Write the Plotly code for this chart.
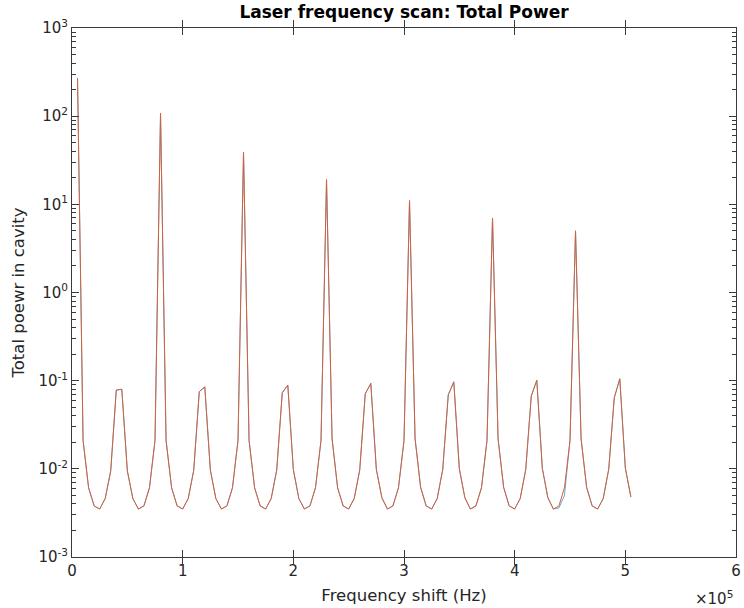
import plotly.graph_objects as go

# Frequency grid (Hz)
freq = [
    5000, 10000, 15000, 20000, 25000, 30000, 35000, 40000, 45000, 50000,
    55000, 60000, 65000, 70000, 75000, 80000, 85000, 90000, 95000, 100000,
    105000, 110000, 115000, 120000, 125000, 130000, 135000, 140000, 145000, 150000,
    155000, 160000, 165000, 170000, 175000, 180000, 185000, 190000, 195000, 200000,
    205000, 210000, 215000, 220000, 225000, 230000, 235000, 240000, 245000, 250000,
    255000, 260000, 265000, 270000, 275000, 280000, 285000, 290000, 295000, 300000,
    305000, 310000, 315000, 320000, 325000, 330000, 335000, 340000, 345000, 350000,
    355000, 360000, 365000, 370000, 375000, 380000, 385000, 390000, 395000, 400000,
    405000, 410000, 415000, 420000, 425000, 430000, 435000, 440000, 445000, 450000,
    455000, 460000, 465000, 470000, 475000, 480000, 485000, 490000, 495000, 500000,
    505000,
]

# Total power, series 1 (blue)
power_a = [
    270, 0.021, 0.0061, 0.0038, 0.0035, 0.0046, 0.0095, 0.078, 0.080, 0.0095,
    0.0046, 0.0035, 0.0038, 0.0061, 0.021,
    108, 0.021, 0.0061, 0.0038, 0.0035, 0.0046, 0.0096, 0.075, 0.085, 0.0097,
    0.0046, 0.0035, 0.0038, 0.0061, 0.021,
    39, 0.021, 0.0061, 0.0038, 0.0035, 0.0046, 0.0097, 0.073, 0.089, 0.0098,
    0.0046, 0.0035, 0.0038, 0.0061, 0.021,
    19, 0.022, 0.0061, 0.0038, 0.0035, 0.0046, 0.0097, 0.071, 0.093, 0.0099,
    0.0047, 0.0035, 0.0038, 0.0061, 0.021,
    11, 0.022, 0.0062, 0.0038, 0.0035, 0.0046, 0.0098, 0.069, 0.097, 0.0100,
    0.0047, 0.0035, 0.0038, 0.0061, 0.021,
    7.0, 0.022, 0.0062, 0.0038, 0.0035, 0.0046, 0.0098, 0.067, 0.101, 0.0101,
    0.0047, 0.0035, 0.0036, 0.0050, 0.021,
    5.0, 0.022, 0.0062, 0.0038, 0.0035, 0.0046, 0.0099, 0.064, 0.105, 0.0102,
    0.0048,
]

# Total power, series 2 (orange)
power_b = [
    270, 0.021, 0.0061, 0.0038, 0.0035, 0.0046, 0.0095, 0.078, 0.080, 0.0095,
    0.0046, 0.0035, 0.0038, 0.0061, 0.021,
    108, 0.021, 0.0061, 0.0038, 0.0035, 0.0046, 0.0096, 0.075, 0.085, 0.0097,
    0.0046, 0.0035, 0.0038, 0.0061, 0.021,
    39, 0.021, 0.0061, 0.0038, 0.0035, 0.0046, 0.0097, 0.073, 0.089, 0.0098,
    0.0046, 0.0035, 0.0038, 0.0061, 0.021,
    19, 0.022, 0.0061, 0.0038, 0.0035, 0.0046, 0.0097, 0.071, 0.093, 0.0099,
    0.0047, 0.0035, 0.0038, 0.0061, 0.021,
    11, 0.022, 0.0062, 0.0038, 0.0035, 0.0046, 0.0098, 0.069, 0.097, 0.0100,
    0.0047, 0.0035, 0.0038, 0.0061, 0.021,
    7.0, 0.022, 0.0062, 0.0038, 0.0035, 0.0046, 0.0098, 0.067, 0.101, 0.0101,
    0.0047, 0.0035, 0.0038, 0.0061, 0.021,
    5.0, 0.022, 0.0062, 0.0038, 0.0035, 0.0046, 0.0099, 0.064, 0.105, 0.0102,
    0.0048,
]

x_tickvals = [0, 100000, 200000, 300000, 400000, 500000, 600000]
x_ticktext = ["0", "1", "2", "3", "4", "5", "6"]
y_tickvals = [1e-3, 1e-2, 1e-1, 1e0, 1e1, 1e2, 1e3]
y_ticktext = ["10<sup>-3</sup>", "10<sup>-2</sup>", "10<sup>-1</sup>", "10<sup>0</sup>",
              "10<sup>1</sup>", "10<sup>2</sup>", "10<sup>3</sup>"]

FONT = "DejaVu Sans, Liberation Sans, sans-serif"
TXT = "#262626"
AX = "#3a3a3a"

fig = go.Figure()
fig.add_trace(go.Scatter(x=freq, y=power_a, mode="lines",
                         line=dict(color="#0072BD", width=0.6), showlegend=False))
fig.add_trace(go.Scatter(x=freq, y=power_b, mode="lines",
                         line=dict(color="#D4603A", width=1.0), showlegend=False))
# invisible copy on a mirrored right-hand axis (carries the right-side minor ticks)
fig.add_trace(go.Scatter(x=freq, y=power_b, mode="lines", yaxis="y2", opacity=0,
                         line=dict(color="#D95319", width=0.5), showlegend=False,
                         hoverinfo="skip"))

fig.update_layout(
    width=744, height=608,
    margin=dict(l=72, r=8, t=28, b=51, autoexpand=False),
    paper_bgcolor="white", plot_bgcolor="white",
    font=dict(family=FONT, size=15, color=TXT),
    title=dict(text="<b>Laser frequency scan: Total Power</b>",
               x=0.543, xanchor="center", y=0.980, yanchor="middle",
               font=dict(family=FONT, size=17, color="black")),
    xaxis=dict(
        range=[0, 600000], tickvals=x_tickvals, ticktext=x_ticktext,
        ticks="inside", ticklen=7, tickcolor=AX, tickwidth=1,
        showline=True, linecolor=AX, linewidth=1, mirror="allticks",
        showgrid=False, zeroline=False, automargin=False,
        tickfont=dict(size=15, color=TXT),
        title=dict(text="Frequency shift (Hz)", standoff=10,
                   font=dict(size=16.5, color=TXT)),
    ),
    yaxis=dict(
        type="log", range=[-3, 3], tickvals=y_tickvals, ticktext=y_ticktext,
        ticks="inside", ticklen=7, tickcolor=AX, tickwidth=1,
        showline=True, linecolor=AX, linewidth=1, mirror="allticks",
        showgrid=False, zeroline=False, automargin=False,
        minor=dict(ticks="inside", ticklen=4, tickcolor=AX, tickwidth=1,
                   dtick="D1", showgrid=False),
        tickfont=dict(size=15, color=TXT),
        title=dict(text="Total poewr in cavity", standoff=9,
                   font=dict(size=16.5, color=TXT)),
    ),
    yaxis2=dict(
        type="log", range=[-3, 3], overlaying="y", side="right",
        tickvals=y_tickvals, showticklabels=False,
        ticks="inside", ticklen=7, tickcolor=AX, tickwidth=1,
        showline=False, showgrid=False, zeroline=False, automargin=False,
        minor=dict(ticks="inside", ticklen=4, tickcolor=AX, tickwidth=1,
                   dtick="D1", showgrid=False),
    ),
    annotations=[
        dict(text="\u00d710<sup>5</sup>", xref="paper", yref="paper",
             x=0.9985, y=-0.077, xanchor="right", yanchor="middle",
             showarrow=False, font=dict(family=FONT, size=15, color=TXT)),
    ],
)

fig.write_html("out.html", config={"displayModeBar": False},
               post_script="document.body.style.margin='0';document.body.style.overflow='hidden';")
